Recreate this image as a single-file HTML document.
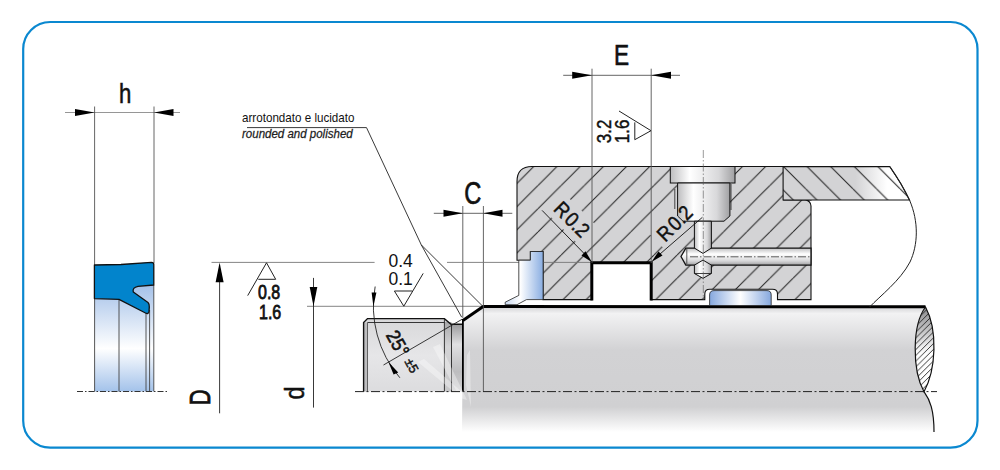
<!DOCTYPE html>
<html><head><meta charset="utf-8">
<style>
html,body{margin:0;padding:0;background:#fff;width:1000px;height:470px;overflow:hidden}
svg{display:block}
text{font-family:"Liberation Sans",sans-serif;fill:#111}
.dim{stroke:#111;stroke-width:0.55}
.num{stroke:#111;stroke-width:0.45}
</style></head><body>
<svg width="1000" height="470" viewBox="0 0 1000 470">
<defs>
  <linearGradient id="sealBody" x1="0" y1="284" x2="0" y2="391.5" gradientUnits="userSpaceOnUse">
    <stop offset="0" stop-color="#a3c0e8"/>
    <stop offset="0.6" stop-color="#ffffff"/>
    <stop offset="1" stop-color="#a3c2ea"/>
  </linearGradient>
  <linearGradient id="shaftG" x1="0" y1="306" x2="0" y2="432" gradientUnits="userSpaceOnUse">
    <stop offset="0" stop-color="#cfcfd1"/>
    <stop offset="0.06" stop-color="#f2f2f3"/>
    <stop offset="0.35" stop-color="#d2d2d4"/>
    <stop offset="0.8" stop-color="#d0d0d2"/>
    <stop offset="1" stop-color="#ffffff"/>
  </linearGradient>
  <linearGradient id="endG" x1="0" y1="319" x2="0" y2="392" gradientUnits="userSpaceOnUse">
    <stop offset="0" stop-color="#d8d8da"/>
    <stop offset="0.5" stop-color="#e6e6e8"/>
    <stop offset="1" stop-color="#dcdcde"/>
  </linearGradient>
  <linearGradient id="bandG" x1="0" y1="324" x2="0" y2="392" gradientUnits="userSpaceOnUse">
    <stop offset="0" stop-color="#9a9a9c"/>
    <stop offset="0.3" stop-color="#e0e0e2"/>
    <stop offset="0.7" stop-color="#bdbdbf"/>
    <stop offset="1" stop-color="#d0d0d2"/>
  </linearGradient>
  <linearGradient id="band2G" x1="0" y1="322" x2="0" y2="392" gradientUnits="userSpaceOnUse">
    <stop offset="0" stop-color="#a8a8aa"/>
    <stop offset="0.35" stop-color="#d4d4d6"/>
    <stop offset="1" stop-color="#c8c8ca"/>
  </linearGradient>
  <linearGradient id="seal2" x1="505" y1="0" x2="543" y2="0" gradientUnits="userSpaceOnUse">
    <stop offset="0" stop-color="#c8d8f0"/>
    <stop offset="0.4" stop-color="#ffffff"/>
    <stop offset="1" stop-color="#8aaee2"/>
  </linearGradient>
  <linearGradient id="ring" x1="0" y1="0" x2="1" y2="0">
    <stop offset="0" stop-color="#86a8de"/>
    <stop offset="0.5" stop-color="#ffffff"/>
    <stop offset="1" stop-color="#86a8de"/>
  </linearGradient>
  <linearGradient id="pinV" x1="0" y1="0" x2="1" y2="0">
    <stop offset="0" stop-color="#bdbdbf"/>
    <stop offset="0.3" stop-color="#ffffff"/>
    <stop offset="0.75" stop-color="#d8d8da"/>
    <stop offset="1" stop-color="#a0a0a2"/>
  </linearGradient>
  <linearGradient id="pinH" x1="0" y1="0" x2="0" y2="1">
    <stop offset="0" stop-color="#bdbdbf"/>
    <stop offset="0.35" stop-color="#ffffff"/>
    <stop offset="0.75" stop-color="#d8d8da"/>
    <stop offset="1" stop-color="#a0a0a2"/>
  </linearGradient>
  <linearGradient id="plateG" x1="783" y1="0" x2="910" y2="0" gradientUnits="userSpaceOnUse">
    <stop offset="0" stop-color="#d3d3d5"/>
    <stop offset="0.57" stop-color="#d3d3d5"/>
    <stop offset="0.82" stop-color="#ffffff"/>
    <stop offset="1" stop-color="#ffffff"/>
  </linearGradient>
  <pattern id="hatchA" patternUnits="userSpaceOnUse" width="23.19" height="23.19" x="4.6" y="0">
    <line x1="0" y1="23.19" x2="23.19" y2="0" stroke="#222" stroke-width="1"/>
    <line x1="-23.19" y1="23.19" x2="0" y2="0" stroke="#222" stroke-width="1"/>
    <line x1="23.19" y1="23.19" x2="46.38" y2="0" stroke="#222" stroke-width="1"/>
  </pattern>
  <pattern id="hatchB" patternUnits="userSpaceOnUse" width="23.6" height="23.6" x="3.3" y="0">
    <line x1="0" y1="0" x2="23.6" y2="23.6" stroke="#222" stroke-width="1"/>
    <line x1="-23.6" y1="0" x2="0" y2="23.6" stroke="#222" stroke-width="1"/>
    <line x1="23.6" y1="0" x2="47.2" y2="23.6" stroke="#222" stroke-width="1"/>
  </pattern>
  <pattern id="hatchS" patternUnits="userSpaceOnUse" width="5.8" height="5.8" x="1">
    <line x1="0" y1="5.8" x2="5.8" y2="0" stroke="#222" stroke-width="0.9"/>
    <line x1="-5.8" y1="5.8" x2="0" y2="0" stroke="#222" stroke-width="0.9"/>
    <line x1="5.8" y1="5.8" x2="11.6" y2="0" stroke="#222" stroke-width="0.9"/>
  </pattern>
  <linearGradient id="breakG" x1="0" y1="307" x2="0" y2="392" gradientUnits="userSpaceOnUse">
    <stop offset="0" stop-color="#8a8a8c"/>
    <stop offset="0.55" stop-color="#ffffff"/>
    <stop offset="1" stop-color="#ffffff"/>
  </linearGradient>
</defs>

<!-- frame -->
<rect x="23.2" y="22" width="954.3" height="425.7" rx="27" ry="27" fill="none" stroke="#0a88d0" stroke-width="2.2"/>

<!-- ===== h dimension + seal profile ===== -->
<g stroke-width="0.9" fill="none">
  <line x1="65" y1="112.5" x2="180" y2="112.5" stroke="#8a8a8a"/>
  <line x1="94.6" y1="106.5" x2="94.6" y2="265" stroke="#555"/>
  <line x1="154" y1="106.5" x2="154" y2="263" stroke="#555"/>
</g>
<path d="M75,109 L94.6,112.5 L75,116 Z" fill="#000"/>
<path d="M173.5,109 L154,112.5 L173.5,116 Z" fill="#000"/>
<text class="dim" x="119" y="103" font-size="27" transform="translate(119,103) scale(0.82,1) translate(-119,-103)">h</text>

<!-- seal body -->
<rect x="94.6" y="284" width="59.2" height="107.5" fill="url(#sealBody)"/>
<g stroke="#444" stroke-width="0.9">
  <line x1="94.6" y1="290" x2="94.6" y2="391.5"/>
  <line x1="119" y1="299" x2="119" y2="391.5"/>
  <line x1="146" y1="306" x2="146" y2="391.5"/>
  <line x1="149.6" y1="310" x2="149.6" y2="391.5"/>
  <line x1="153.8" y1="285" x2="153.8" y2="391.5"/>
</g>
<path d="M94.4,265 L121,264.5 L151.5,262.3 Q153.8,262.3 153.8,264.5 L153.8,285 L138,286.3 Q132,287.5 133.3,292 L148,302.5 Q149.5,304 149.3,307 L149,311.5 Q148.6,314.5 145.5,313 L119,299.3 L94.4,298.6 Z" fill="#0284cc" stroke="#111" stroke-width="1.3" stroke-linejoin="round"/>
<line x1="77" y1="391.5" x2="168" y2="391.5" stroke="#333" stroke-width="1" stroke-dasharray="6,2,1.5,2"/>

<!-- ===== D / d dimensions ===== -->
<g stroke-width="0.9" fill="none">
  <line x1="211.5" y1="262.4" x2="374.6" y2="262.4" stroke="#777"/>
  <line x1="219.6" y1="270" x2="219.6" y2="413.3" stroke="#222"/>
  <line x1="307" y1="306.3" x2="483" y2="306.3" stroke="#777"/>
  <line x1="313.5" y1="277.9" x2="313.5" y2="407.6" stroke="#222"/>
</g>
<path d="M215.6,282.3 L219.6,262.4 L223.6,282.3 Z" fill="#000"/>
<path d="M309.7,286.9 L313.5,306.3 L317.3,286.9 Z" fill="#000"/>
<text class="dim" x="210" y="405.2" font-size="29.8" style="stroke-width:0.85" transform="translate(210,405.2) rotate(-90) scale(0.737,1) translate(-210,-405.2)">D</text>
<text class="dim" x="304.5" y="399.5" font-size="28.5" transform="translate(304.5,399.5) rotate(-90) scale(0.82,1) translate(-304.5,-399.5)">d</text>

<!-- surface finish D -->
<path d="M247.7,295.6 L266.5,262.8 L275.7,279.3 L258.3,279.3" stroke="#222" stroke-width="1" fill="none"/>
<text class="num" x="258" y="299.5" font-size="19.5" style="stroke-width:0.8" transform="translate(258,299.5) scale(0.82,1) translate(-258,-299.5)">0.8</text>
<text class="num" x="259" y="319" font-size="19.5" style="stroke-width:0.8" transform="translate(259,319) scale(0.82,1) translate(-259,-319)">1.6</text>

<!-- surface finish d -->
<path d="M423.2,273.4 L403.8,306.2 L394.4,291 L412.4,291" stroke="#222" stroke-width="1" fill="none"/>
<text x="388.5" y="267" font-size="17.5" fill="#222">0.4</text>
<text x="388.5" y="285" font-size="17.5" fill="#222">0.1</text>

<!-- leader text -->
<text x="242" y="121.8" font-size="12" fill="#333" transform="translate(242,0) scale(0.97,1) translate(-242,0)">arrotondato e lucidato</text>
<text x="242" y="138.5" font-size="12" font-style="italic" fill="#333" stroke="#333" stroke-width="0.25" transform="translate(242,0) scale(0.96,1) translate(-242,0)">rounded and polished</text>
<g stroke="#222" stroke-width="0.9" fill="none">
  <polyline points="247,127.6 366.5,127.6 421.3,244.9 461.7,317.2"/>
  <line x1="421.3" y1="244.9" x2="482" y2="305.5"/>
</g>

<!-- ===== shaft ===== -->
<path d="M462.9,320.5 L483.2,306.2 L925.5,306.8 C912,325 912,370 924,391.7 C930,400 934,410 934,432 L462,432 Z" fill="url(#shaftG)"/>
<!-- end piece -->
<path d="M363.6,322.5 L367.5,318.6 L444.4,318.6 L451,324.3 L462.9,324.3 L462.9,391.6 L363.6,391.6 Z" fill="url(#endG)"/>
<rect x="444.4" y="322" width="7" height="69.6" fill="url(#band2G)"/>
<rect x="451.5" y="324.3" width="11.4" height="67.3" fill="url(#bandG)"/>
<rect x="363.6" y="322.5" width="3.9" height="69" fill="#bdbdbf"/>
<path d="M363.6,391.6 L363.6,322.5 L367.5,318.6 L444.4,318.6 L451,324.3 L462.9,324.3" fill="none" stroke="#111" stroke-width="1.4"/>
<g stroke="#222" stroke-width="0.9">
  <line x1="367.5" y1="322.5" x2="444.4" y2="322.5"/>
  <line x1="367.5" y1="322.5" x2="367.5" y2="391.6" stroke="#555"/>
  <line x1="444.4" y1="319" x2="444.4" y2="391.6"/>
  <line x1="451.5" y1="324.3" x2="451.5" y2="391.6"/>
</g>
<line x1="462.9" y1="319" x2="462.9" y2="391.6" stroke="#000" stroke-width="1.8"/>
<!-- shaft top thick line + chamfer -->
<polyline points="462.9,320.5 483.2,306.4 925.5,306.8" fill="none" stroke="#000" stroke-width="3"/>

<!-- ===== C dimension ===== -->
<g stroke="#555" stroke-width="0.9" fill="none">
  <line x1="433.8" y1="213.3" x2="512.3" y2="213.3"/>
  <line x1="462.8" y1="206" x2="462.8" y2="318"/>
  <line x1="483.4" y1="206" x2="483.4" y2="391.6"/>
</g>
<path d="M443.5,209.8 L462.8,213.3 L443.5,216.8 Z" fill="#000"/>
<path d="M502.5,209.8 L483.4,213.3 L502.5,216.8 Z" fill="#000"/>
<text class="dim" x="464.2" y="203.9" font-size="32" style="stroke-width:0.7" transform="translate(464.2,203.9) scale(0.74,1) translate(-464.2,-203.9)">C</text>

<!-- faint watermark -->
<g fill="#ffffff" fill-opacity="0.35">
  <polygon points="433,347 440,344 467,400 460,398"/>
  <polygon points="418,362 424,359 462,392 454,392"/>
  <polygon points="467,355 470,350 471,407 466,385"/>
</g>
<!-- center line -->
<line x1="355" y1="391.6" x2="937" y2="391.6" stroke="#222" stroke-width="1" stroke-dasharray="9,2.5,2,2.5"/>

<!-- angle 25 -->
<g stroke="#222" stroke-width="0.9" fill="none">
  <line x1="383.5" y1="365" x2="462" y2="319.3"/>
  <path d="M375.17,286.53 A110,110 0 0 0 399.88,377.79"/>
</g>
<path d="M371.6,292.5 L373.4,306.6 L376.4,292.5 Z" fill="#000"/>
<path d="M388.3,361.8 L398.2,372.6 L393.6,374.6 Z" fill="#000"/>
<text class="num" x="385.5" y="335" font-size="19.5" style="stroke-width:0.6" transform="translate(385.5,335) rotate(61) scale(0.9,1) translate(-385.5,-335)">25°</text>
<text class="num" x="404.3" y="361.5" font-size="13" transform="translate(404.3,361.5) rotate(61) translate(-404.3,-361.5)" style="stroke-width:0.45">±5</text>

<!-- ===== housing ===== -->
<path d="M517,181.5 Q517,166.5 532,166.5 L811,166.5 L811,200 L783.1,200 L805,200 A6,6 0 0 1 811,206 L811,299.6 L777.5,299.6 L777.5,294 Q777.5,289.3 772.5,289.3 L709.8,289.3 Q704.8,289.3 704.8,294 L704.8,299.6 L651.2,299.6 L651.2,262.6 L591.8,262.6 L591.8,299.6 L543.1,299.6 L543.1,251.5 L530.4,251.5 L530.4,260.2 L517,260.2 Z" fill="#d3d3d5"/>
<path d="M517,181.5 Q517,166.5 532,166.5 L811,166.5 L811,200 L783.1,200 L805,200 A6,6 0 0 1 811,206 L811,299.6 L777.5,299.6 L777.5,294 Q777.5,289.3 772.5,289.3 L709.8,289.3 Q704.8,289.3 704.8,294 L704.8,299.6 L651.2,299.6 L651.2,262.6 L591.8,262.6 L591.8,299.6 L543.1,299.6 L543.1,251.5 L530.4,251.5 L530.4,260.2 L517,260.2 Z" fill="url(#hatchA)" stroke="#111" stroke-width="1.1"/>
<!-- R0.2 halos -->
<g fill="#d3d3d5">
  <rect x="-5" y="-20" width="58" height="26" transform="translate(552.5,210) rotate(45)"/>
  <rect x="-5" y="-20" width="58" height="26" transform="translate(665.2,242.7) rotate(-45)"/>
</g>
<!-- top plate -->
<path d="M783.1,166.6 L889.8,166.6 Q902,184 909.5,200 L783.1,200 Z" fill="url(#plateG)"/>
<path d="M783.1,166.6 L889.8,166.6 Q902,184 909.5,200 L783.1,200 Z" fill="url(#hatchB)" stroke="#111" stroke-width="1.1"/>
<!-- break line -->
<path d="M889.8,166.6 Q902,184 909.5,200 C919,222 918,245 910,262 C900,281 880,296 869.6,307" fill="none" stroke="#222" stroke-width="1"/>

<line x1="447" y1="262.4" x2="592" y2="262.4" stroke="#777" stroke-width="0.9"/>
<!-- groove thick walls -->
<rect x="593.3" y="264.3" width="56.4" height="35.3" fill="#fff"/>
<polyline points="591.8,300.5 591.8,262.8 651.2,262.8 651.2,300.5" fill="none" stroke="#000" stroke-width="3"/>

<!-- left seal -->
<path d="M530.4,251.5 L543.1,251.5 L543.1,299.6 L526.5,299.6 L517,304.7 L505.2,304.7 L505.2,302.2 L518.8,295.4 L518.8,260.2 L530.4,260.2 Z" fill="url(#seal2)" stroke="#222" stroke-width="0.8"/>

<!-- bore -->
<path d="M685.8,248.1 L811,248.1 L811,265.1 L685.8,265.1 L681,256.5 Z" fill="url(#pinH)" stroke="#111" stroke-width="1.3"/>
<line x1="686.8" y1="249" x2="686.8" y2="264" stroke="#333" stroke-width="0.8"/>
<!-- vertical pin -->
<rect x="670.3" y="166.5" width="64.7" height="16.5" fill="url(#pinV)" stroke="#111" stroke-width="1"/>
<path d="M677.6,183 L729.9,183 L729.9,216 L724,221.2 L683,221.2 L677.6,216 Z" fill="url(#pinV)" stroke="#111" stroke-width="1"/>
<path d="M694.4,221.2 L711.4,221.2 L711.4,248.1 L703,253.4 L694.4,248.1 Z" fill="url(#pinV)" stroke="#111" stroke-width="1"/>
<path d="M694.4,265.1 L703,260.1 L711.4,265.1 L711.4,273.5 L703,278.3 L694.4,273.5 Z" fill="url(#pinV)" stroke="#111" stroke-width="1"/>
<g stroke="#222" stroke-width="0.8"><line x1="674.8" y1="189" x2="674.8" y2="209"/><line x1="731" y1="184" x2="731" y2="210"/></g>
<line x1="694.4" y1="273.5" x2="711.4" y2="273.5" stroke="#111" stroke-width="0.8"/>
<line x1="690" y1="256.8" x2="811" y2="256.8" stroke="#333" stroke-width="0.8" stroke-dasharray="8,2,1.5,2"/>
<line x1="703.3" y1="150" x2="703.3" y2="300" stroke="#555" stroke-width="0.6" stroke-dasharray="8,2,1.5,2"/>
<!-- o-ring -->
<path d="M709.6,305.5 L709.6,295 Q709.6,290.6 714,290.6 L767,290.6 Q771.2,290.6 771.2,295 L771.2,305.5 Z" fill="url(#ring)" stroke="#222" stroke-width="0.8"/>

<!-- E dimension -->
<g stroke="#555" stroke-width="0.9" fill="none">
  <line x1="563.2" y1="75.3" x2="680" y2="75.3"/>
  <line x1="592" y1="68.7" x2="592" y2="263"/>
  <line x1="651.2" y1="68.7" x2="651.2" y2="263"/>
</g>
<path d="M572.2,71.8 L592,75.3 L572.2,78.8 Z" fill="#000"/>
<path d="M671,71.8 L651.2,75.3 L671,78.8 Z" fill="#000"/>
<text class="dim" x="614.1" y="65.5" font-size="30" style="stroke-width:0.7" transform="translate(614.1,65.5) scale(0.755,1) translate(-614.1,-65.5)">E</text>
<path d="M619,111 L651,130.7 L634.8,139.7 L634.8,122.4" stroke="#222" stroke-width="1" fill="none"/>
<text class="num" x="611.5" y="143.2" font-size="20.5" transform="translate(611.5,143.2) rotate(-90) scale(0.83,1) translate(-611.5,-143.2)">3.2</text>
<text class="num" x="629.4" y="143.2" font-size="20.5" transform="translate(629.4,143.2) rotate(-90) scale(0.83,1) translate(-629.4,-143.2)">1.6</text>

<!-- R0.2 leaders -->
<g stroke="#111" stroke-width="0.9" fill="none">
  <line x1="542.1" y1="210.4" x2="588" y2="257.5"/>
  <line x1="656" y1="257.5" x2="702.4" y2="217.3"/>
</g>
<path d="M592,262.3 L581.5,255.5 L585.5,251.3 Z" fill="#000"/>
<path d="M651.4,262 L658.5,251.5 L662.5,255.5 Z" fill="#000"/>

<g font-size="20.5">
<text class="num" transform="translate(552.5,210) rotate(45) scale(0.9,1)">R<tspan dx="2">0.2</tspan></text>
<text class="num" transform="translate(665.2,242.7) rotate(-45) scale(0.9,1)">R<tspan dx="2">0.2</tspan></text>
</g>

<!-- right shaft break -->
<path d="M925.5,307 C912,325 912,370 924,391.7 C936,370 938,330 925.5,307 Z" fill="url(#breakG)"/>
<path d="M925.5,307 C912,325 912,370 924,391.7 C936,370 938,330 925.5,307 Z" fill="url(#hatchS)" stroke="#111" stroke-width="1.2"/>
<path d="M924,391.7 C930,400 934,410 934,432" fill="none" stroke="#111" stroke-width="1.2"/>

</svg>
</body></html>
